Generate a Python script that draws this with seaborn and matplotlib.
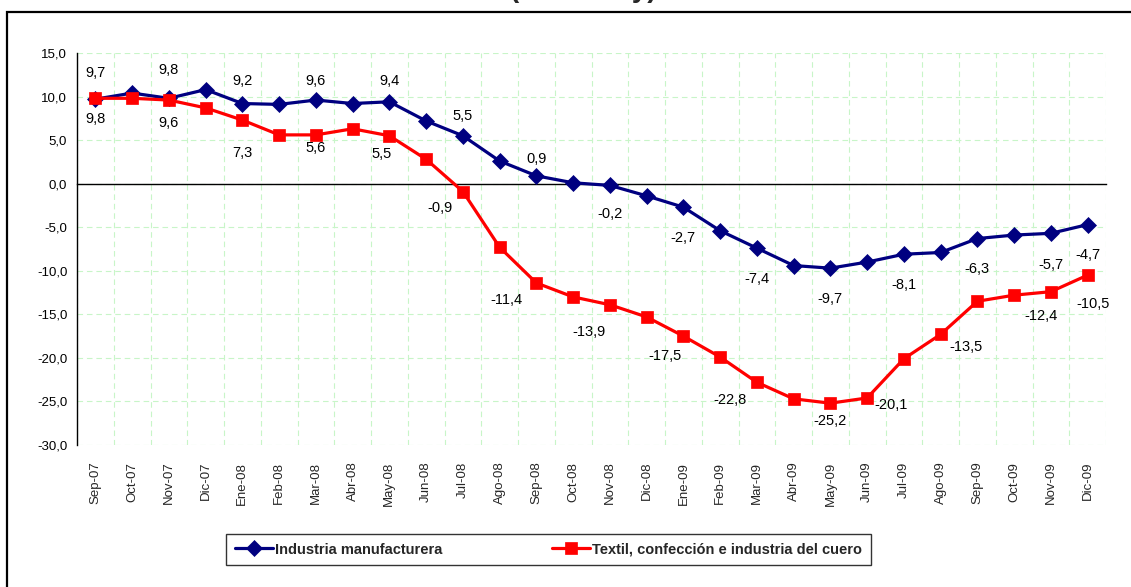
import numpy as np
import pandas as pd
import matplotlib
matplotlib.use("Agg")
import matplotlib.pyplot as plt
import seaborn as sns
from matplotlib.ticker import FuncFormatter
from matplotlib.patches import Rectangle
from matplotlib import font_manager

# ---------------- data ----------------
meses = ["Sep-07", "Oct-07", "Nov-07", "Dic-07",
         "Ene-08", "Feb-08", "Mar-08", "Abr-08", "May-08", "Jun-08",
         "Jul-08", "Ago-08", "Sep-08", "Oct-08", "Nov-08", "Dic-08",
         "Ene-09", "Feb-09", "Mar-09", "Abr-09", "May-09", "Jun-09",
         "Jul-09", "Ago-09", "Sep-09", "Oct-09", "Nov-09", "Dic-09"]
industria = [9.7, 10.4, 9.8, 10.8,
             9.2, 9.1, 9.6, 9.2, 9.4, 7.2, 5.5, 2.6, 0.9, 0.1, -0.2, -1.4,
             -2.7, -5.4, -7.4, -9.4, -9.7, -9.0, -8.1, -7.9, -6.3, -5.9, -5.7, -4.7]
textil = [9.8, 9.8, 9.6, 8.7,
          7.3, 5.6, 5.6, 6.3, 5.5, 2.8, -0.9, -7.3, -11.4, -13.0, -13.9, -15.3,
          -17.5, -19.9, -22.8, -24.7, -25.2, -24.6, -20.1, -17.3, -13.5, -12.8, -12.4, -10.5]
serie_ind = "Industria manufacturera"
serie_tex = "Textil, confección e industria del cuero"
yticks = [15, 10, 5, 0, -5, -10, -15, -20, -25, -30]
titulo = "(% anual y)"

# label placement: index -> (dx, dy) in pixels (dy positive = downward)
lab_ind = {0: (0, -26), 2: (0, -28), 4: (0, -23), 6: (0, -19), 8: (0, -21),
           10: (0, -20), 12: (0, -17), 14: (0, 29), 16: (0, 31), 18: (0, 31),
           20: (0, 31), 22: (0, 31), 24: (0, 30), 26: (0, 32), 27: (0, 30)}
lab_tex = {0: (0, 21), 2: (0, 23), 4: (0, 33), 6: (0, 13), 8: (-8, 18),
           10: (-23, 16), 12: (-30, 17), 14: (-21, 27), 16: (-18, 20),
           18: (-27, 18), 20: (0, 18), 22: (-13, 46), 24: (-11, 46),
           26: (-10, 24), 27: (5, 29)}

df = pd.DataFrame({"mes": meses, "pos": np.arange(len(meses)),
                   serie_ind: industria, serie_tex: textil})

# ---------------- style ----------------
sns.set_style("white")
names = {f.name for f in font_manager.fontManager.ttflist}
base_font = "Liberation Sans" if "Liberation Sans" in names else "DejaVu Sans"
plt.rcParams["font.family"] = [base_font, "DejaVu Sans"]

W, H = 1131, 587
fig = plt.figure(figsize=(W / 100, H / 100), dpi=100)
ax = fig.add_axes([77 / W, 1 - 445 / H, (1106 - 77) / W, (445 - 53) / H])

blue = "#000080"
red = "#FF0000"

sns.lineplot(data=df, x="pos", y=serie_ind, ax=ax, color=blue, linewidth=2.3,
             marker="D", markersize=8, markeredgecolor=blue, markeredgewidth=0.5,
             label=serie_ind, zorder=3)
sns.lineplot(data=df, x="pos", y=serie_tex, ax=ax, color=red, linewidth=2.3,
             marker="s", markersize=9, markeredgecolor=red, markeredgewidth=0.5,
             label=serie_tex, zorder=4)

ax.set_xlim(-0.5, len(meses) - 0.5)
ax.set_ylim(-30, 15)
ax.set_xlabel("")
ax.set_ylabel("")

# axes / grid
for s in ["top", "right"]:
    ax.spines[s].set_visible(False)
ax.spines["bottom"].set_position(("data", 0))
ax.spines["bottom"].set_color("black")
ax.spines["bottom"].set_linewidth(1.0)
ax.spines["left"].set_color("black")
ax.spines["left"].set_linewidth(1.0)

ax.set_xticks(np.arange(-0.5, len(meses), 1.0))
ax.tick_params(axis="x", which="major", direction="out", length=4, width=1,
               color="black", labelbottom=False)
ax.set_yticks(yticks)
ax.yaxis.set_major_formatter(FuncFormatter(lambda v, p: f"{v:.1f}".replace(".", ",")))
ax.tick_params(axis="y", direction="out", length=4, width=1, color="black",
               labelsize=9.5, pad=3, labelcolor="black")
ax.grid(True, which="major", color="#c8f5c8", linestyle=(0, (5, 3.5)), linewidth=0.8)
ax.set_axisbelow(True)

sec = ax.secondary_xaxis("bottom")
sec.set_xticks(np.arange(len(meses)))
sec.set_xticklabels(meses, rotation=90, fontsize=9.5)
sec.tick_params(length=0, pad=12)
sec.spines["bottom"].set_visible(False)

# data labels
def fmt(v):
    return f"{v:.1f}".replace(".", ",")

for i, (dx, dy) in lab_ind.items():
    ax.annotate(fmt(industria[i]), (i, industria[i]), xytext=(dx, -dy),
                textcoords="offset pixels", ha="center", va="center",
                fontsize=10.5, color="black", zorder=6)
for i, (dx, dy) in lab_tex.items():
    ax.annotate(fmt(textil[i]), (i, textil[i]), xytext=(dx, -dy),
                textcoords="offset pixels", ha="center", va="center",
                fontsize=10.5, color="black", zorder=6)

# legend
ax.get_legend().remove()
handles, labels = ax.get_legend_handles_labels()
leg = fig.legend(handles, labels, loc="center",
                 bbox_to_anchor=(548.5 / W, 1 - 549.5 / H), ncol=2,
                 frameon=True, fancybox=False, edgecolor="black",
                 prop={"weight": "bold", "size": 10.5},
                 handlelength=2.6, handletextpad=0.15, columnspacing=7.5,
                 borderpad=0.6, borderaxespad=0, numpoints=1)
leg.get_frame().set_linewidth(1.0)

# outer frame and (cut) title
fig.add_artist(Rectangle((7 / W, -0.05), 1.2, (H - 12) / H + 0.05,
                         transform=fig.transFigure, fill=False,
                         edgecolor="black", linewidth=1.6))
fig.text(583 / W, 1 + 3 / H, titulo, ha="center", va="baseline",
         fontsize=20, fontweight="bold")

fig.savefig("out.png", dpi=100)
